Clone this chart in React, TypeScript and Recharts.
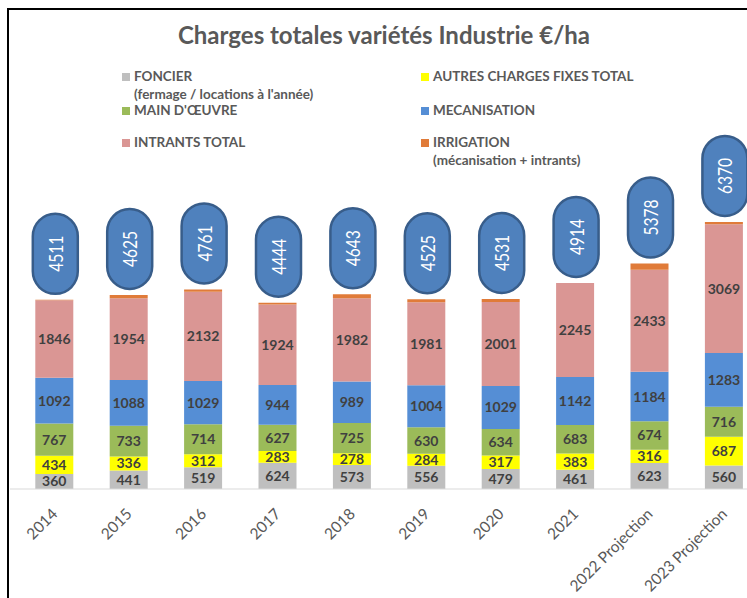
import { BarChart, Bar, XAxis, YAxis, LabelList, Legend } from "recharts";

const FONT = "Lato, 'Open Sans', sans-serif";

const YEARS = [
  "2014",
  "2015",
  "2016",
  "2017",
  "2018",
  "2019",
  "2020",
  "2021",
  "2022 Projection",
  "2023 Projection",
];
const FONCIER = [360, 441, 519, 624, 573, 556, 479, 461, 623, 560];
const AUTRES = [434, 336, 312, 283, 278, 284, 317, 383, 316, 687];
const MAIN_OEUVRE = [767, 733, 714, 627, 725, 630, 634, 683, 674, 716];
const MECANISATION = [1092, 1088, 1029, 944, 989, 1004, 1029, 1142, 1184, 1283];
const INTRANTS = [1846, 1954, 2132, 1924, 1982, 1981, 2001, 2245, 2433, 3069];
const IRRIGATION = [12, 73, 55, 42, 96, 70, 71, 0, 148, 55];
const TOTALS = [4511, 4625, 4761, 4444, 4643, 4525, 4531, 4914, 5378, 6370];

const SERIES = [
  { key: "foncier", name: "FONCIER", sub: "(fermage / locations à l'année)", color: "#BFBFBF", values: FONCIER },
  { key: "autres", name: "AUTRES CHARGES FIXES TOTAL", sub: "", color: "#FFFF00", values: AUTRES },
  { key: "main", name: "MAIN D'ŒUVRE", sub: "", color: "#9BBB59", values: MAIN_OEUVRE },
  { key: "meca", name: "MECANISATION", sub: "", color: "#558ED5", values: MECANISATION },
  { key: "intrants", name: "INTRANTS TOTAL", sub: "", color: "#DA9694", values: INTRANTS },
  { key: "irrigation", name: "IRRIGATION", sub: "(mécanisation + intrants)", color: "#E07B39", values: IRRIGATION },
];

const data = YEARS.map((year, i) => {
  const row: Record<string, string | number> = { year, total: TOTALS[i] };
  SERIES.forEach((s) => {
    row[s.key] = s.values[i];
  });
  return row;
});

function YearTick({ x, y, payload }: any) {
  const ax = x + 4;
  const ay = y + 26;
  return (
    <text
      x={ax}
      y={ay}
      transform={`rotate(-45 ${ax} ${ay})`}
      textAnchor="end"
      fontSize={15.5}
      fontFamily={FONT}
      fill="#595959"
    >
      {payload.value}
    </text>
  );
}

// drawn from the intrants segment so that 2021 (no irrigation) still gets its bubble
function TotalBubble({ x, y, width, height, index, value }: any) {
  const pxPerUnit = height / INTRANTS[index];
  const stackTop = y - IRRIGATION[index] * pxPerUnit;
  const cx = x + width / 2 + 1;
  const h = 80;
  const w = 45;
  const top = stackTop - 6 - h;
  const cy = top + h / 2;
  return (
    <g>
      <rect
        x={cx - w / 2}
        y={top}
        width={w}
        height={h}
        rx={w / 2}
        ry={w / 2}
        fill="#4F81BD"
        stroke="#385D8A"
        strokeWidth={2.5}
      />
      <text
        x={cx}
        y={cy}
        transform={`rotate(-90 ${cx} ${cy})`}
        textAnchor="middle"
        dominantBaseline="central"
        fontSize={19}
        fontFamily={FONT}
        fill="#FFFFFF"
        textLength={36}
        lengthAdjust="spacingAndGlyphs"
      >
        {value}
      </text>
    </g>
  );
}

const LEGEND_ROWS = [76, 110, 142];
const LEGEND_COLS = [122, 421];

function LegendBlock() {
  return (
    <div style={{ position: "relative", width: 747, height: 110 }}>
      {SERIES.map((s, i) => {
        const left = LEGEND_COLS[i % 2];
        const top = LEGEND_ROWS[Math.floor(i / 2)] - 76;
        return (
          <div
            key={s.key}
            style={{
              position: "absolute",
              left,
              top,
              fontFamily: FONT,
              fontWeight: 700,
              fontSize: 13.5,
              color: "#595959",
              lineHeight: "18px",
              whiteSpace: "nowrap",
            }}
          >
            <span
              style={{
                display: "inline-block",
                width: 8,
                height: 8,
                background: s.color,
                marginRight: 4,
                verticalAlign: "0px",
              }}
            />
            {s.name}
            {s.sub && <div style={{ paddingLeft: 12 }}>{s.sub}</div>}
          </div>
        );
      })}
    </div>
  );
}

export default function App() {
  return (
    <div
      style={{
        position: "absolute",
        left: 0,
        top: 0,
        width: 747,
        height: 598,
        overflow: "hidden",
        background: "#FFFFFF",
      }}
    >
      <div
        style={{
          position: "absolute",
          left: 7,
          top: 8,
          width: 800,
          height: 700,
          border: "2px solid #000000",
        }}
      />
      <div
        style={{
          position: "absolute",
          left: 0,
          top: 20,
          width: 768,
          textAlign: "center",
          fontFamily: FONT,
          fontWeight: 700,
          fontSize: 24,
          color: "#595959",
        }}
      >
        Charges totales variétés Industrie €/ha
      </div>
      <div style={{ position: "absolute", left: 0, top: 0 }}>
        <BarChart
          width={770}
          height={598}
          data={data}
          margin={{ top: 195.5, right: 8.7, left: 10, bottom: 0 }}
        >
          <XAxis
            dataKey="year"
            interval={0}
            tickLine={false}
            tickSize={0}
            tickMargin={0}
            axisLine={{ stroke: "#D9D9D9" }}
            padding={{ left: 7.3, right: 0 }}
            height={109}
            tick={<YearTick />}
          />
          <YAxis hide domain={[0, 7000]} />
          <Legend
            layout="vertical"
            align="center"
            verticalAlign="middle"
            wrapperStyle={{ top: 67, left: 0, width: 747 }}
            content={() => <LegendBlock />}
          />
          {SERIES.map((s) => (
            <Bar
              key={s.key}
              dataKey={s.key}
              name={s.name}
              stackId="a"
              fill={s.color}
              barSize={38}
              isAnimationActive={false}
            >
              {s.key !== "irrigation" && (
                <LabelList
                  dataKey={s.key}
                  position="center"
                  fill="#404040"
                  fontSize={14}
                  fontWeight={700}
                  fontFamily={FONT}
                />
              )}
              {s.key === "intrants" && (
                <LabelList dataKey="total" content={<TotalBubble />} />
              )}
            </Bar>
          ))}
        </BarChart>
      </div>
    </div>
  );
}
